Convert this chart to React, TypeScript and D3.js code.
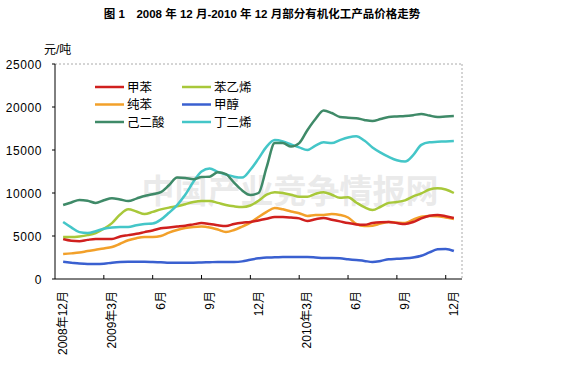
import React from "react";
import * as d3 from "d3";

const title = "图 1　2008 年 12 月-2010 年 12 月部分有机化工产品价格走势";
const unitLabel = "元/吨";
const watermark = "中国产业竞争情报网";

// 25 monthly categories, labels every 3 months
const monthLabels = ["2008年12月", "2009年3月", "6月", "9月", "12月", "2010年3月", "6月", "9月", "12月"];
const labelMonths = [0, 3, 6, 9, 12, 15, 18, 21, 24];
const tickMonths = [2.5, 5.5, 8.5, 11.5, 14.5, 17.5, 20.5, 23.5];
const yTicks = [0, 5000, 10000, 15000, 20000, 25000];

// half-month observations (49 points, Dec 2008 .. Dec 2010)
const toluene = [4650, 4450, 4400, 4550, 4650, 4650, 4650, 4950, 5100, 5250, 5450, 5650, 5900, 6000, 6100, 6200, 6350, 6500, 6400, 6250, 6160, 6400, 6550, 6630, 6800, 7000, 7210, 7210, 7150, 7050, 6750, 6950, 7100, 6900, 6700, 6500, 6350, 6300, 6500, 6600, 6630, 6500, 6400, 6630, 7050, 7350, 7440, 7300, 7100];
const styrene = [4880, 4880, 4950, 5100, 5350, 5850, 6500, 7500, 8100, 7850, 7550, 7800, 8100, 8300, 8450, 8700, 8950, 9070, 9070, 8850, 8600, 8450, 8370, 8550, 9100, 9800, 10100, 10000, 9800, 9550, 9550, 9900, 10100, 9800, 9450, 9500, 8900, 8350, 8020, 8400, 8850, 8950, 9150, 9600, 9950, 10400, 10550, 10400, 10000];
const benzene = [2900, 2980, 3080, 3250, 3400, 3550, 3720, 4100, 4500, 4750, 4880, 4880, 5000, 5400, 5700, 5930, 6050, 6100, 6000, 5750, 5470, 5700, 6100, 6550, 7200, 7800, 8260, 8100, 7850, 7650, 7330, 7450, 7450, 7550, 7450, 7150, 6400, 6150, 6200, 6450, 6630, 6550, 6500, 6900, 7250, 7330, 7300, 7150, 6980];
const methanol = [2000, 1900, 1800, 1750, 1750, 1780, 1900, 1980, 2000, 2000, 2000, 1980, 1950, 1900, 1880, 1880, 1900, 1920, 1950, 1980, 1980, 1980, 2050, 2250, 2400, 2500, 2520, 2550, 2560, 2560, 2550, 2500, 2440, 2440, 2400, 2300, 2200, 2100, 1980, 2100, 2300, 2350, 2400, 2500, 2700, 3100, 3450, 3500, 3260];
const adipicAcid = [8600, 8900, 9200, 9100, 8850, 9150, 9400, 9250, 9070, 9350, 9650, 9850, 10100, 10900, 11800, 11750, 11600, 11850, 11900, 12400, 12200, 11200, 10300, 9770, 10000, 13000, 15800, 15800, 15400, 15800, 17300, 18600, 19600, 19300, 18840, 18750, 18700, 18500, 18370, 18600, 18840, 18900, 18950, 19050, 19190, 19000, 18840, 18900, 18950];
const butadiene = [6630, 6000, 5450, 5350, 5550, 5850, 6000, 6050, 6050, 6250, 6400, 6450, 6900, 7700, 8600, 9800, 11300, 12500, 12850, 12450, 12150, 11900, 11800, 12700, 14000, 15400, 16150, 16000, 15650, 15300, 15000, 15500, 15900, 15800, 16150, 16450, 16600, 16100, 15300, 14700, 14200, 13800, 13650, 14400, 15600, 15900, 15950, 16000, 16050];

const seriesNames = ["甲苯", "苯乙烯", "纯苯", "甲醇", "己二酸", "丁二烯"];
const seriesValues = [toluene, styrene, benzene, methanol, adipicAcid, butadiene];
const seriesColors = ["#d0201e", "#a8c83a", "#f2a02a", "#3a60d0", "#3f8a68", "#44c6c8"];
const drawOrder = [3, 2, 0, 1, 5, 4];

const W = 573;
const H = 380;
const left = 55;
const right = 462;
const top = 64;
const bottom = 279;

export default function App() {
  const x = d3.scaleLinear().domain([-0.5, 24.5]).range([left, right]);
  const y = d3.scaleLinear().domain([0, 25000]).range([bottom, top]);
  const line = d3
    .line<number>()
    .x((_, i) => x(i / 2))
    .y((v) => y(v))
    .curve(d3.curveMonotoneX);

  const font = "'Liberation Sans', 'Noto Sans CJK SC', sans-serif";

  return (
    <svg
      width={W}
      height={H}
      style={{ position: "absolute", left: 0, top: 0, background: "#fff" }}
      fontFamily={font}
    >
      <rect x={0} y={0} width={W} height={H} fill="#fff" />
      <text x={262} y={18} textAnchor="middle" fontSize={11.5} fontWeight="bold" fill="#000">
        {title}
      </text>
      <text x={44} y={54} fontSize={12} fill="#000">
        {unitLabel}
      </text>

      {/* plot border (dashed) */}
      <line x1={left} x2={right} y1={top} y2={top} stroke="#aaa" strokeDasharray="2,2" />
      <line x1={right} x2={right} y1={top} y2={bottom} stroke="#aaa" strokeDasharray="2,2" />

      {/* watermark */}
      <text x={290} y={203} textAnchor="middle" fontSize={33} fontWeight="bold" fill="#d8d8d8" fillOpacity={0.55} fontFamily="'Noto Sans CJK SC', serif">
        {watermark}
      </text>

      {/* y axis */}
      <line x1={left} x2={left} y1={top} y2={bottom} stroke="#000" />
      {yTicks.map((t) => (
        <g key={t}>
          <line x1={left - 3} x2={left} y1={y(t)} y2={y(t)} stroke="#000" />
          <text x={42} y={y(t) + 4.5} textAnchor="end" fontSize={12} letterSpacing={0.6} fill="#000">
            {t}
          </text>
        </g>
      ))}

      {/* x axis */}
      <line x1={left} x2={right} y1={bottom} y2={bottom} stroke="#000" />
      {tickMonths.map((m) => (
        <line key={m} x1={x(m)} x2={x(m)} y1={bottom} y2={bottom - 4} stroke="#000" />
      ))}
      {labelMonths.map((m, i) => (
        <text
          key={i}
          transform={`translate(${x(m) + 4},291) rotate(-90)`}
          textAnchor="end"
          fontSize={12}
          fill="#000"
        >
          {monthLabels[i]}
        </text>
      ))}

      {/* series */}
      {drawOrder.map((k) => (
        <path
          key={k}
          d={line(seriesValues[k]) || ""}
          fill="none"
          stroke={seriesColors[k]}
          strokeWidth={2.5}
          strokeLinejoin="round"
        />
      ))}

      {/* legend */}
      {seriesNames.map((name, k) => {
        const col = k % 2;
        const row = Math.floor(k / 2);
        const lx = col === 0 ? 95 : 182;
        const ly = 87 + row * 17.5;
        return (
          <g key={name}>
            <line x1={lx} x2={lx + 29} y1={ly} y2={ly} stroke={seriesColors[k]} strokeWidth={2.5} />
            <text x={lx + 32} y={ly + 4.5} fontSize={12.5} fill="#000" fontFamily="'Noto Sans CJK SC', sans-serif">
              {name}
            </text>
          </g>
        );
      })}
    </svg>
  );
}
